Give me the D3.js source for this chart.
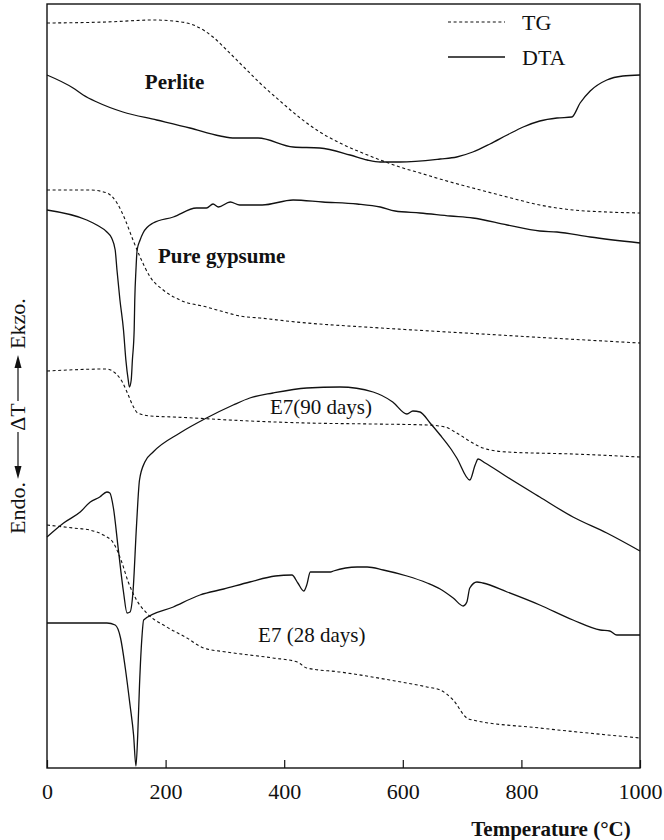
<!DOCTYPE html>
<html>
<head>
<meta charset="utf-8">
<script src="https://cdn.jsdelivr.net/npm/d3@7"></script>
<style>
  html, body { margin: 0; padding: 0; background: #fff; }
  svg { display: block; }
  text { font-family: "Liberation Serif", "DejaVu Serif", serif; fill: #111; }
</style>
</head>
<body>
<svg id="chart" width="664" height="840"></svg>
<script>
// ---- Data (temperature in °C, signal in arbitrary units, higher = exo) ----
const tempTicks = [0, 200, 400, 600, 800, 1000];

const perliteTG_T = [0, 100, 180, 213, 247, 280, 303, 325, 342, 359, 393, 427, 460, 494, 528, 562, 595, 629, 680, 718, 776, 831, 887, 944, 1000];
const perliteTG_v = [745, 746, 748, 747, 743, 731, 718, 705, 695, 685, 667, 650, 636, 625, 616, 608, 601, 595, 586, 580, 571, 563, 558, 556, 555];

const perliteDTA_T = [0, 44, 61, 84, 128, 185, 241, 292, 317, 356, 415, 460, 511, 540, 562, 595, 663, 691, 718, 747, 776, 803, 831, 860, 885, 899, 916, 944, 971, 1000];
const perliteDTA_v = [693, 680, 673, 666, 656, 648, 640, 632, 630, 630, 621, 620, 613, 608, 606, 606, 609, 611, 616, 624, 633, 641, 647, 650, 651, 665, 677, 688, 692, 693];

const gypsumTG_T = [0, 73, 101, 118, 132, 145, 157, 174, 196, 224, 269, 305, 325, 359, 420, 563, 705, 848, 1000];
const gypsumTG_v = [578, 578, 575, 565, 548, 528, 511, 491, 478, 468, 461, 455, 452, 450, 446, 440, 435, 430, 425];

const gypsumDTA_T = [0, 67, 84, 101, 109, 115, 118, 123, 129, 133, 137, 139, 142, 144, 147, 148, 150, 152, 157, 162, 179, 213, 252, 269, 280, 289, 309, 325, 363, 415, 465, 523, 562, 587, 629, 680, 718, 776, 831, 860, 916, 1000];
const gypsumDTA_v = [558, 548, 543, 536, 530, 518, 498, 468, 438, 408, 388, 381, 388, 408, 438, 468, 498, 518, 528, 535, 545, 551, 560, 560, 564, 561, 566, 563, 563, 568, 566, 564, 561, 557, 555, 552, 550, 543, 537, 536, 531, 525];

const e790TG_T = [0, 101, 115, 127, 137, 145, 153, 174, 213, 342, 438, 550, 641, 671, 691, 718, 735, 776, 887, 1000];
const e790TG_v = [397, 399, 395, 386, 373, 362, 355, 352, 351, 347, 345, 344, 343, 341, 335, 325, 320, 316, 314, 311];

const e790DTA_T = [0, 28, 56, 73, 89, 101, 106, 112, 120, 129, 135, 140, 145, 151, 156, 165, 179, 224, 269, 314, 342, 381, 438, 494, 550, 583, 607, 617, 629, 646, 663, 680, 691, 713, 722, 727, 739, 776, 831, 887, 944, 1000];
const e790DTA_v = [231, 245, 256, 266, 271, 276, 275, 260, 220, 176, 155, 156, 176, 243, 288, 306, 316, 335, 350, 363, 370, 375, 380, 381, 376, 366, 354, 357, 356, 345, 333, 320, 310, 288, 303, 309, 305, 291, 271, 251, 235, 217];

const e728TG_T = [0, 44, 72, 95, 112, 126, 137, 151, 168, 202, 236, 264, 303, 381, 422, 438, 494, 578, 641, 663, 685, 708, 718, 831, 1000];
const e728TG_v = [243, 240, 238, 233, 225, 206, 186, 168, 155, 141, 130, 120, 116, 110, 106, 100, 96, 88, 81, 78, 68, 50, 48, 40, 30];

const e728DTA_T = [0, 101, 115, 124, 132, 140, 146, 150, 153, 156, 160, 163, 213, 258, 298, 342, 385, 413, 423, 433, 438, 444, 478, 483, 523, 540, 567, 607, 641, 663, 685, 702, 708, 713, 725, 735, 776, 831, 887, 933, 949, 961, 1000];
const e728DTA_v = [145, 145, 143, 130, 100, 63, 33, 2, 33, 83, 130, 148, 161, 173, 179, 186, 192, 193, 185, 177, 183, 196, 196, 197, 201, 201, 198, 192, 185, 179, 170, 162, 166, 180, 186, 185, 176, 163, 148, 138, 137, 133, 133];

const sampleLabels = ["Perlite", "Pure gypsume", "E7(90 days)", "E7 (28 days)"];
const sampleLabelT = [165, 187, 376, 356];
const sampleLabelV = [679, 505, 354, 126];
const sampleLabelBold = [true, true, false, false];

const legendNames = ["TG", "DTA"];

// ---- Build ----
const svg = d3.select("#chart");
const x = d3.scaleLinear().domain([0, 1000]).range([47, 640]);
const y = d3.scaleLinear().domain([0, 764]).range([768, 4]);

const zip = (T, V) => T.map((t, i) => [t, V[i]]);
const series = [
  { d: zip(perliteTG_T, perliteTG_v), type: "TG" },
  { d: zip(perliteDTA_T, perliteDTA_v), type: "DTA" },
  { d: zip(gypsumTG_T, gypsumTG_v), type: "TG" },
  { d: zip(gypsumDTA_T, gypsumDTA_v), type: "DTA" },
  { d: zip(e790TG_T, e790TG_v), type: "TG" },
  { d: zip(e790DTA_T, e790DTA_v), type: "DTA" },
  { d: zip(e728TG_T, e728TG_v), type: "TG" },
  { d: zip(e728DTA_T, e728DTA_v), type: "DTA" }
];

const line = d3.line().x(d => x(d[0])).y(d => y(d[1])).curve(d3.curveMonotoneX);

svg.append("g").selectAll("path").data(series).join("path")
  .attr("d", s => line(s.d))
  .attr("fill", "none")
  .attr("stroke", "#111")
  .attr("stroke-width", s => s.type === "TG" ? 1.1 : 1.3)
  .attr("stroke-dasharray", s => s.type === "TG" ? "3,2.6" : null);

// frame
svg.append("rect")
  .attr("x", x(0)).attr("y", y(764))
  .attr("width", x(1000) - x(0)).attr("height", y(0) - y(764))
  .attr("fill", "none").attr("stroke", "#111").attr("stroke-width", 1.4);

// x axis
const xAxis = d3.axisBottom(x).tickValues(tempTicks).tickSizeInner(-8).tickSizeOuter(0).tickPadding(15)
  .tickFormat(d3.format("d"));
const gx = svg.append("g").attr("transform", `translate(0,${y(0)})`).call(xAxis);
gx.select(".domain").remove();
gx.selectAll(".tick line").attr("stroke", "#111").attr("stroke-width", 1.2);
gx.selectAll(".tick text").attr("font-size", 22).attr("font-family", "Liberation Serif").attr("fill", "#111");

svg.append("text")
  .attr("x", 551).attr("y", 836)
  .attr("text-anchor", "middle")
  .attr("font-size", 21).attr("font-weight", "bold")
  .text("Temperature (°C)");

// y label: Endo. <-- ΔT --> Ekzo.
const yl = svg.append("g").attr("transform", "translate(25,0) rotate(-90)");
yl.append("text").attr("x", -534).attr("y", 0).attr("font-size", 22).text("Endo.");
yl.append("text").attr("x", -417).attr("y", 0).attr("text-anchor", "middle").attr("font-size", 22).text("ΔT");
yl.append("text").attr("x", -349).attr("y", 0).attr("font-size", 22).text("Ekzo.");
const arrowW = -7;
yl.append("line").attr("x1", -432).attr("x2", -468).attr("y1", arrowW).attr("y2", arrowW).attr("stroke", "#111").attr("stroke-width", 1.2);
yl.append("path").attr("d", `M-479,${arrowW} L-466,${arrowW - 3.5} L-466,${arrowW + 3.5} Z`).attr("fill", "#111");
yl.append("line").attr("x1", -401).attr("x2", -366).attr("y1", arrowW).attr("y2", arrowW).attr("stroke", "#111").attr("stroke-width", 1.2);
yl.append("path").attr("d", `M-355,${arrowW} L-368,${arrowW - 3.5} L-368,${arrowW + 3.5} Z`).attr("fill", "#111");

// sample labels
svg.append("g").selectAll("text").data(sampleLabels).join("text")
  .attr("x", (d, i) => x(sampleLabelT[i]))
  .attr("y", (d, i) => y(sampleLabelV[i]))
  .attr("font-size", 21)
  .attr("font-weight", (d, i) => sampleLabelBold[i] ? "bold" : "normal")
  .text(d => d);

// legend
const lg = svg.append("g");
legendNames.forEach((name, i) => {
  const yy = 22 + i * 35;
  lg.append("line").attr("x1", 448).attr("x2", 505).attr("y1", yy).attr("y2", yy)
    .attr("stroke", "#111").attr("stroke-width", name === "TG" ? 1.1 : 1.3)
    .attr("stroke-dasharray", name === "TG" ? "3,2.6" : null);
  lg.append("text").attr("x", 522).attr("y", yy + 7.5).attr("font-size", 22).text(name);
});
</script>
</body>
</html>
